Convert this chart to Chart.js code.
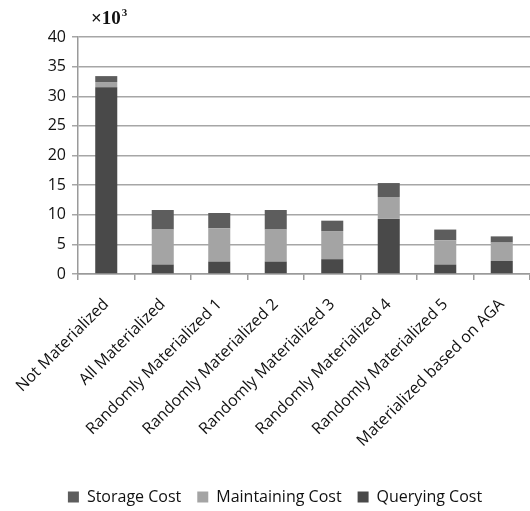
<!DOCTYPE html>
<html>
<head>
<meta charset="utf-8">
<script src="https://cdn.jsdelivr.net/npm/chart.js@4.4.1/dist/chart.umd.min.js"></script>
<style>
  html, body { margin: 0; padding: 0; background: #fff; }
  #wrap { width: 530px; height: 511px; }
</style>
</head>
<body>
<div id="wrap"><canvas id="costChart"></canvas></div>
<script>
const categories = [
  "Not Materialized",
  "All Materialized",
  "Randomly Materialized 1",
  "Randomly Materialized 2",
  "Randomly Materialized 3",
  "Randomly Materialized 4",
  "Randomly Materialized 5",
  "Materialized based on AGA"
];
// costs in thousands
const queryingCost   = [31.5, 1.6, 2.1, 2.1, 2.5, 9.3, 1.6, 2.2];
const maintainingCost = [0.9, 5.9, 5.6, 5.4, 4.75, 3.7, 4.1, 3.1];
const storageCost    = [1.0, 3.3, 2.6, 3.3, 1.75, 2.35, 1.8, 1.05];
const yTicks = [0, 5, 10, 15, 20, 25, 30, 35, 40];

const FONT = "'Open Sans', 'DejaVu Sans', sans-serif";

// "×10³" unit label above the y axis
const unitLabel = {
  id: "unitLabel",
  afterDraw(chart) {
    const ctx = chart.ctx;
    ctx.save();
    ctx.fillStyle = "#111";
    ctx.textBaseline = "alphabetic";
    ctx.font = "bold 19px 'Liberation Serif', serif";
    ctx.fillText("\u00d710", 91, 24);
    const w = ctx.measureText("\u00d710").width;
    ctx.font = "bold 11px 'Liberation Serif', serif";
    ctx.fillText("3", 91 + w + 1, 16);
    ctx.restore();
  }
};

const ctx = document.getElementById("costChart").getContext("2d");
const costChart = new Chart(ctx, {
  type: "bar",
  data: {
    labels: categories,
    datasets: [
      {
        label: "Querying Cost",
        data: queryingCost,
        backgroundColor: "#494949",
      },
      {
        label: "Maintaining Cost",
        data: maintainingCost,
        backgroundColor: "#a4a4a4",
      },
      {
        label: "Storage Cost",
        data: storageCost,
        backgroundColor: "#5d5d5d",
      },
    ],
  },
  options: {
    responsive: true,
    maintainAspectRatio: false,
    animation: false,
    devicePixelRatio: 1,
    layout: {
      padding: { top: 37, right: 0, bottom: -4, left: 20 },
    },
    datasets: {
      bar: {
        categoryPercentage: 1,
        barPercentage: 0.39,
      },
    },
    plugins: {
      legend: {
        display: true,
        position: "bottom",
        reverse: true,
        labels: {
          color: "#111",
          font: { family: FONT, size: 16 },
          boxWidth: 11,
          boxHeight: 11,
          padding: 16,
        },
      },
      tooltip: { enabled: false },
    },
    scales: {
      x: {
        stacked: true,
        afterFit(scale) {
          scale.height = 199;
          scale.paddingLeft = 0;
          scale.paddingRight = 0;
        },
        grid: {
          offset: true,
          drawOnChartArea: false,
          drawTicks: true,
          tickLength: 6,
          color: "#9a9a9a",
          lineWidth: 1.5,
        },
        border: { display: true, color: "#9a9a9a", width: 1.5 },
        ticks: {
          color: "#111",
          font: { family: FONT, size: 16 },
          minRotation: 45,
          maxRotation: 45,
          autoSkip: false,
          padding: 15,
        },
      },
      y: {
        stacked: true,
        min: 0,
        max: 40,
        afterFit(scale) {
          scale.width = 58;
        },
        afterBuildTicks(scale) {
          scale.ticks = yTicks.map((v) => ({ value: v }));
        },
        grid: {
          color: "#a6a6a6",
          lineWidth: 1.5,
          drawTicks: true,
          tickLength: 6,
        },
        border: { display: true, color: "#9a9a9a", width: 1.5 },
        ticks: {
          color: "#111",
          font: { family: FONT, size: 16 },
          padding: 6,
        },
      },
    },
  },
  plugins: [unitLabel],
});
</script>
</body>
</html>
